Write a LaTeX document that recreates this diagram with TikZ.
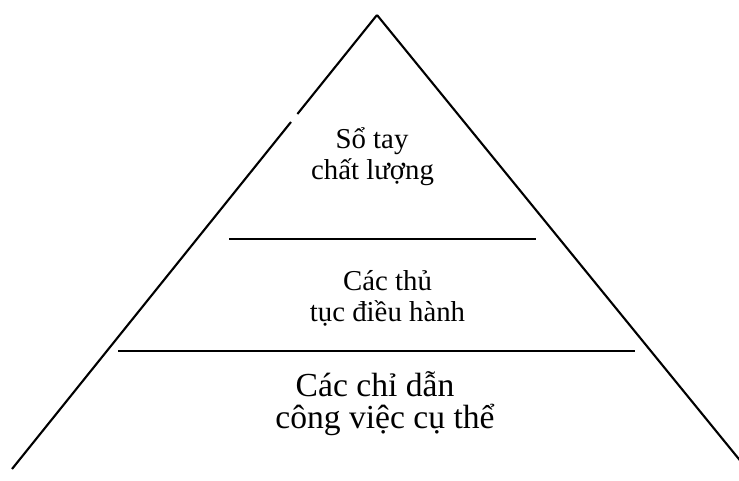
\documentclass[tikz,border=0pt]{standalone}
\usepackage{fontspec}
\setmainfont{Liberation Serif}
\begin{document}
\begin{tikzpicture}[x=1pt,y=-1pt,
  edge/.style={line width=2.1pt, line cap=butt},
  smalltext/.style={anchor=base, inner sep=0pt, font=\fontsize{28.8}{32}\selectfont},
  bigtext/.style={anchor=base, inner sep=0pt, font=\fontsize{33.6}{36}\selectfont}]
\useasboundingbox (0,0) rectangle (739,481);
\clip (0,0) rectangle (739,481);
% triangle corners
\coordinate (apex) at (377,15);
\coordinate (gapTop) at (297.4,114);
\coordinate (gapBot) at (291.0,122);
\coordinate (baseL) at (12,469);
\coordinate (baseR) at (747,469);
\draw[edge] (apex) -- (gapTop);
\draw[edge] (gapBot) -- (baseL);
\draw[edge] (apex) -- (baseR);
% dividers
\coordinate (d1L) at (229,239);
\coordinate (d1R) at (536,239);
\coordinate (d2L) at (118,351);
\coordinate (d2R) at (635,351);
\draw[edge] (d1L) -- (d1R);
\draw[edge] (d2L) -- (d2R);
% labels
\node[smalltext] (t1a) at (372,149) {Sổ tay};
\node[smalltext] (t1b) at (372.5,180) {chất lượng};
\node[smalltext] (t2a) at (387.5,290) {Các thủ};
\node[smalltext] (t2b) at (387.5,321) {tục điều hành};
\node[bigtext] (t3a) at (375,396) {Các chỉ dẫn};
\node[bigtext] (t3b) at (385,428) {công việc cụ thể};
\end{tikzpicture}
\end{document}
